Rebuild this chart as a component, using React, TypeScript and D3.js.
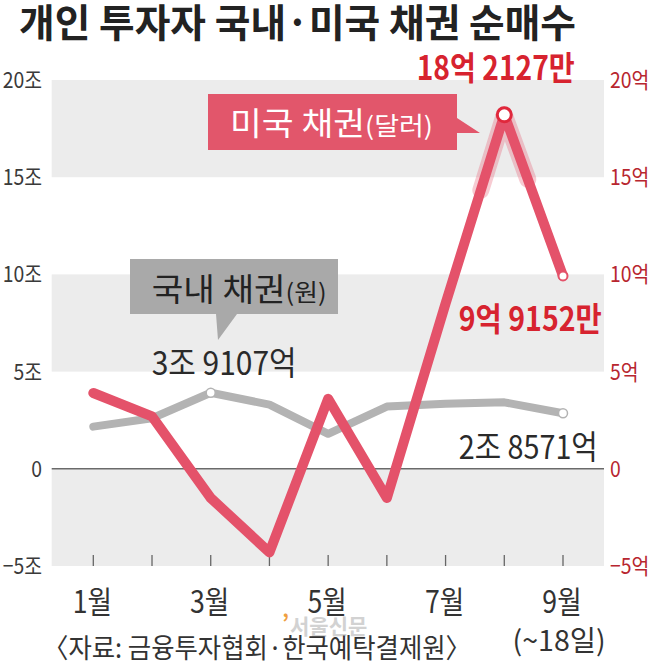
import * as d3 from 'd3';

const months = [1, 2, 3, 4, 5, 6, 7, 8, 9];
const monthLabels = ['1월', '', '3월', '', '5월', '', '7월', '', '9월'];
// 국내 채권 (조 원)
const domestic = [2.17, 2.6, 3.91, 3.3, 1.8, 3.2, 3.35, 3.42, 2.86];
// 미국 채권 (억 달러)
const us = [3.9, 2.7, -1.5, -4.3, 3.6, -1.5, 8.5, 18.21, 9.92];
const yTicks = [20, 15, 10, 5, 0, -5];
const leftTickLabels = ['20조', '15조', '10조', '5조', '0', '−5조'];
const rightTickLabels = ['20억', '15억', '10억', '5억', '0', '−5억'];
const bands: [number, number][] = [[15, 20], [5, 10], [-5, 0]];

const W = 660;
const H = 665;
const FONT = '"Noto Sans CJK KR", "Noto Sans", sans-serif';
const RED = '#e4526a';
const RED_TEXT = '#d7232f';
const GRAY = '#b3b3b3';

const x = d3.scaleLinear().domain([1, 9]).range([93.3, 563]);
const y = d3.scaleLinear().domain([-5, 20]).range([566, 80]);
const plotLeft = 51.7;
const plotRight = 604;

const line = d3
  .line<number>()
  .x((_d, i) => x(months[i]))
  .y((d) => y(d));

// squeeze text a bit to mimic the condensed newspaper face
const T = ({
  x: tx,
  y: ty,
  sx = 0.88,
  anchor = 'start',
  size,
  fill = '#2a2a2a',
  weight = 400,
  children,
}: {
  x: number;
  y: number;
  sx?: number;
  anchor?: string;
  size: number;
  fill?: string;
  weight?: number;
  children: React.ReactNode;
}) => (
  <text
    transform={`translate(${tx},${ty}) scale(${sx},1)`}
    textAnchor={anchor}
    fontSize={size}
    fill={fill}
    fontWeight={weight}
    fontFamily={FONT}
  >
    {children}
  </text>
);

export default function App() {
  const peakI = 7;
  const lastI = 8;
  const glowPts: [number, number][] = [
    [x(7.6), y(us[6] + 0.6 * (us[7] - us[6]))],
    [x(months[peakI]), y(us[peakI])],
    [x(8.4), y(us[7] + 0.4 * (us[8] - us[7]))],
  ];

  return (
    <svg
      width={W}
      height={H}
      style={{ position: 'absolute', left: 0, top: 0, background: '#fff' }}
    >
      {/* title */}
      <text
        x={19}
        y={37}
        fontSize={39}
        fontWeight={700}
        fill="#222"
        fontFamily={FONT}
        textLength={557}
        lengthAdjust="spacingAndGlyphs"
      >
        개인 투자자 국내·미국 채권 순매수
      </text>

      {/* bands */}
      {bands.map(([a, b]) => (
        <rect
          key={a}
          x={plotLeft}
          y={y(b)}
          width={plotRight - plotLeft}
          height={y(a) - y(b)}
          fill="#ececec"
        />
      ))}

      {/* zero line */}
      <line x1={plotLeft} x2={plotRight} y1={y(0)} y2={y(0)} stroke="#6a6a6a" strokeWidth={1.5} />

      {/* month ticks */}
      {months.map((m) => (
        <line key={m} x1={x(m)} x2={x(m)} y1={y(-5) - 11} y2={y(-5)} stroke="#666" strokeWidth={1.3} />
      ))}

      {/* axis labels */}
      {yTicks.map((t, i) => (
        <T key={'l' + t} x={42} y={y(t) + 8} size={22} anchor="end" fill="#3a3a3a">
          {leftTickLabels[i]}
        </T>
      ))}
      {yTicks.map((t, i) => (
        <T key={'r' + t} x={610} y={y(t) + 8} size={22} fill="#b8262f">
          {rightTickLabels[i]}
        </T>
      ))}
      {months.map((m, i) =>
        monthLabels[i] ? (
          <T key={'m' + m} x={x(m) - 1} y={613} size={31} sx={0.86} anchor="middle" fill="#333">
            {monthLabels[i]}
          </T>
        ) : null
      )}

      {/* watermark */}
      <text x={282} y={631} fontSize={22} fontWeight={700} fill="#f0a040" fontFamily={FONT}>
        ’
      </text>
      <text x={290} y={634} fontSize={21} fontWeight={700} fill="#d2d2d2" fontFamily={FONT}>
        서울신문
      </text>

      <text x={512.6} y={651} fontSize={28} fill="#333" fontFamily={FONT} textLength={93} lengthAdjust="spacingAndGlyphs">
        (~18일)
      </text>
      <text x={43} y={658} fontSize={27} fill="#333" fontFamily={FONT} textLength={428} lengthAdjust="spacingAndGlyphs">
        〈자료: 금융투자협회·한국예탁결제원〉
      </text>

      {/* domestic line */}
      <path
        d={line(domestic) ?? ''}
        fill="none"
        stroke={GRAY}
        strokeWidth={8}
        strokeLinejoin="round"
        strokeLinecap="round"
      />

      {/* US line */}
      <path
        d={d3.line()(glowPts) ?? ''}
        fill="none"
        stroke={RED}
        strokeOpacity={0.3}
        strokeWidth={17}
        strokeLinejoin="round"
        strokeLinecap="round"
      />
      <path
        d={line(us) ?? ''}
        fill="none"
        stroke={RED}
        strokeWidth={10}
        strokeLinejoin="round"
        strokeLinecap="round"
      />

      {/* point markers */}
      <circle cx={x(3)} cy={y(domestic[2])} r={4.5} fill="#fff" stroke={GRAY} strokeWidth={1.5} />
      <circle cx={x(9)} cy={y(domestic[lastI])} r={4.5} fill="#fff" stroke={GRAY} strokeWidth={1.5} />
      <circle cx={x(months[peakI])} cy={y(us[peakI])} r={7} fill="#fff" stroke="#e0283c" strokeWidth={3} />
      <circle cx={x(9)} cy={y(us[lastI])} r={4.5} fill="#fff" stroke={RED} strokeWidth={2} />

      {/* callouts */}
      <path d="M130,259 H338 V314 H237 L218,340 L216,314 H130 Z" fill="#a9a9a9" />
      <text
        x={151.7}
        y={301}
        fontFamily={FONT}
        fill="#222"
        textLength={175}
        lengthAdjust="spacingAndGlyphs"
      >
        <tspan fontSize={32}>국내 채권</tspan>
        <tspan fontSize={24}>(원)</tspan>
      </text>

      <path d="M208,94 H457 V118 L480,133 H457 V150 H208 Z" fill="#e2566b" />
      <text
        x={230}
        y={135}
        fontFamily={FONT}
        fill="#fff"
        textLength={203}
        lengthAdjust="spacingAndGlyphs"
      >
        <tspan fontSize={32}>미국 채권</tspan>
        <tspan fontSize={25}>(달러)</tspan>
      </text>

      {/* value labels */}
      <text x={151.7} y={375} fontSize={33} fill="#2a2a2a" fontFamily={FONT} textLength={145} lengthAdjust="spacingAndGlyphs">
        3조 9107억
      </text>
      <text x={416.7} y={80} fontSize={33} fontWeight={700} fill={RED_TEXT} fontFamily={FONT} textLength={158} lengthAdjust="spacingAndGlyphs">
        18억 2127만
      </text>
      <text x={458.8} y={331} fontSize={33} fontWeight={700} fill={RED_TEXT} fontFamily={FONT} textLength={143} lengthAdjust="spacingAndGlyphs">
        9억 9152만
      </text>
      <text x={458.8} y={459} fontSize={33} fill="#2a2a2a" fontFamily={FONT} textLength={139} lengthAdjust="spacingAndGlyphs">
        2조 8571억
      </text>
    </svg>
  );
}
